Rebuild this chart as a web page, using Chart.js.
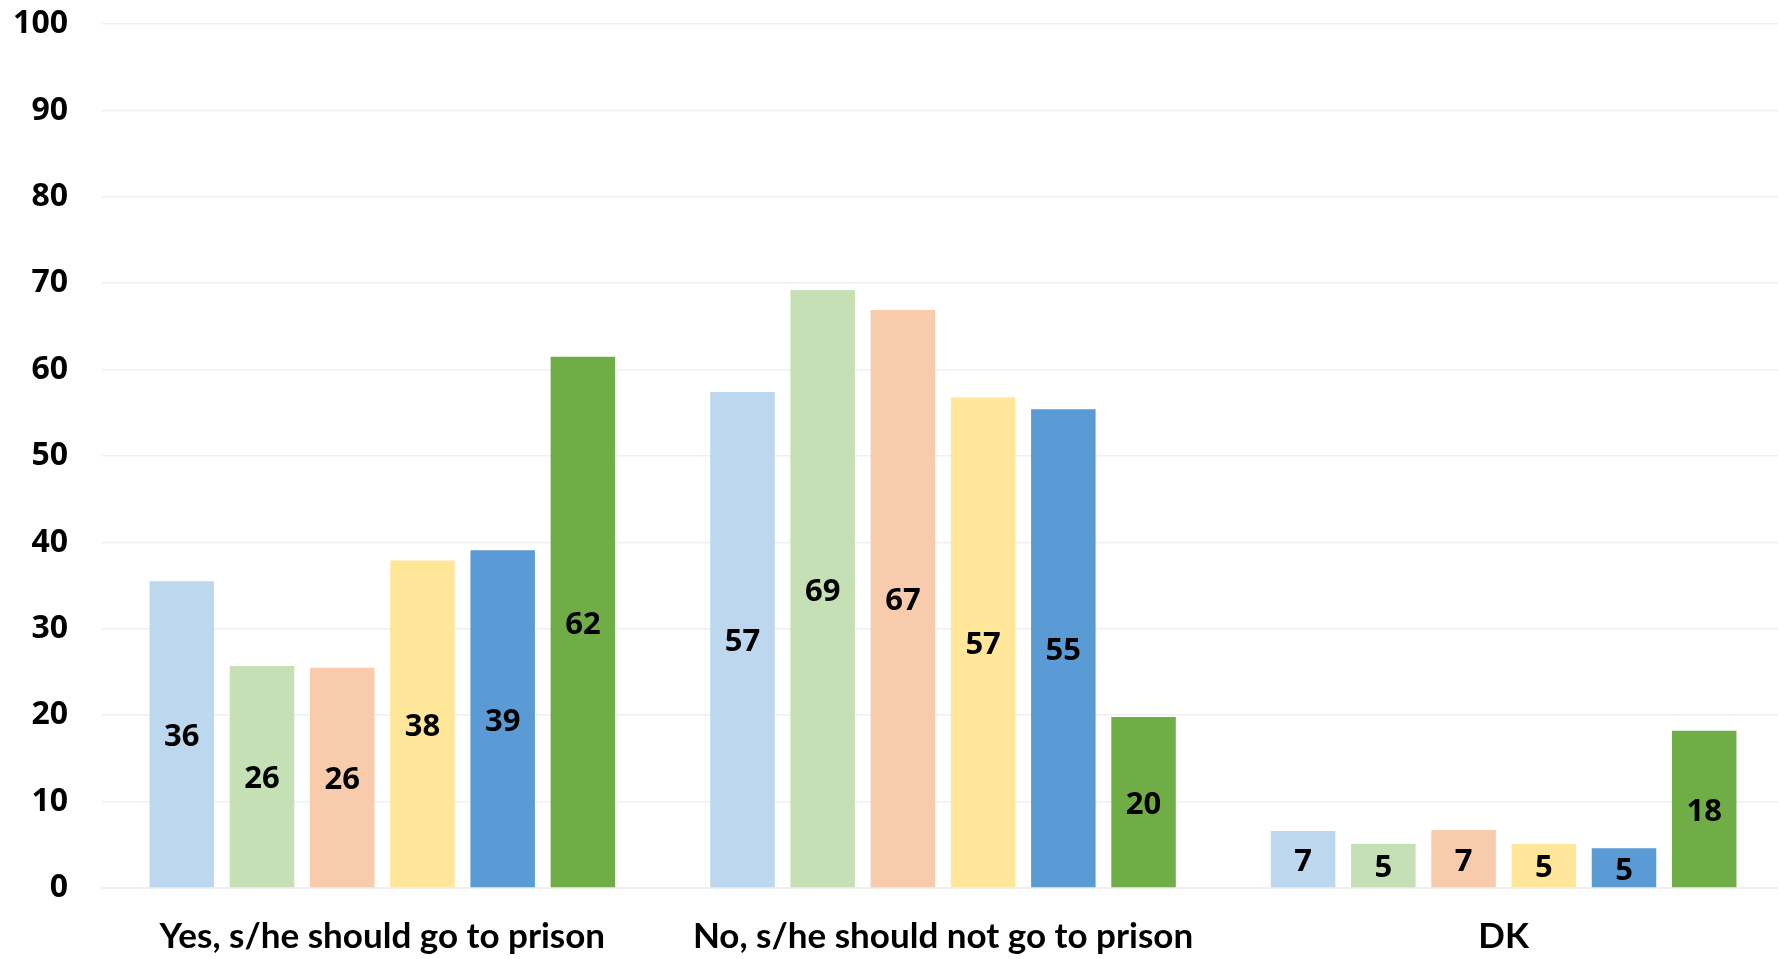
<!DOCTYPE html>
<html>
<head>
<meta charset="utf-8">
<script src="https://cdn.jsdelivr.net/npm/chart.js@4.4.1/dist/chart.umd.min.js"></script>
<style>
  html, body { margin: 0; padding: 0; background: #ffffff; overflow: hidden; }
  #wrap { position: relative; width: 1784px; height: 959px; }
</style>
</head>
<body>
<div id="wrap"><canvas id="c"></canvas></div>
<script>
const categories = ["Yes, s/he should go to prison", "No, s/he should not go to prison", "DK"];
const seriesNames = ["Series 1", "Series 2", "Series 3", "Series 4", "Series 5", "Series 6"];
const series1 = [35.5, 57.4, 6.6];
const series2 = [25.7, 69.2, 5.1];
const series3 = [25.5, 66.9, 6.7];
const series4 = [37.9, 56.8, 5.1];
const series5 = [39.1, 55.4, 4.6];
const series6 = [61.5, 19.8, 18.2];
const seriesColors = ["#BDD7EE", "#C5E0B4", "#F8CBAD", "#FFE699", "#5B9BD5", "#70AD47"];
const yTicks = [0, 10, 20, 30, 40, 50, 60, 70, 80, 90, 100];

const allSeries = [series1, series2, series3, series4, series5, series6];

const barLabels = {
  id: 'barLabels',
  afterDatasetsDraw(chart) {
    const ctx = chart.ctx;
    ctx.save();
    ctx.font = 'bold 31px "Open Sans", sans-serif';
    ctx.fillStyle = '#000000';
    ctx.textAlign = 'center';
    ctx.textBaseline = 'middle';
    chart.data.datasets.forEach((ds, i) => {
      const meta = chart.getDatasetMeta(i);
      meta.data.forEach((bar, j) => {
        const v = ds.data[j];
        const yMid = (bar.y + bar.base) / 2 + 3;
        ctx.fillText(String(Math.round(v)), bar.x, yMid);
      });
    });
    ctx.restore();
  }
};

new Chart(document.getElementById('c'), {
  type: 'bar',
  data: {
    labels: categories,
    datasets: allSeries.map((s, i) => ({
      label: seriesNames[i],
      data: s,
      backgroundColor: seriesColors[i],
      borderWidth: 0,
      categoryPercentage: 0.8585,
      barPercentage: 0.804
    }))
  },
  options: {
    responsive: true,
    maintainAspectRatio: false,
    animation: false,
    layout: { padding: { top: 24, right: 0, bottom: 0, left: 0 } },
    plugins: {
      legend: { display: false },
      tooltip: { enabled: false }
    },
    scales: {
      x: {
        grid: { display: false, drawTicks: false },
        border: { display: true, color: '#EFEFEF', width: 2 },
        ticks: {
          color: '#000000',
          padding: 28,
          font: { family: 'Lato', weight: 'bold', size: 35 }
        },
        afterFit(scale) { scale.height = 71; }
      },
      y: {
        min: 0,
        max: 100,
        afterBuildTicks(scale) { scale.ticks = yTicks.map(v => ({ value: v })); },
        grid: { color: '#EFEFEF', lineWidth: 1.5, drawTicks: true, tickLength: 34, tickColor: 'rgba(0,0,0,0)' },
        border: { display: false },
        ticks: {
          color: '#000000',
          padding: 0,
          font: { family: '"Open Sans"', weight: 'bold', size: 32 }
        },
        afterFit(scale) { scale.width = 102; }
      }
    }
  },
  plugins: [barLabels]
});
</script>
</body>
</html>
